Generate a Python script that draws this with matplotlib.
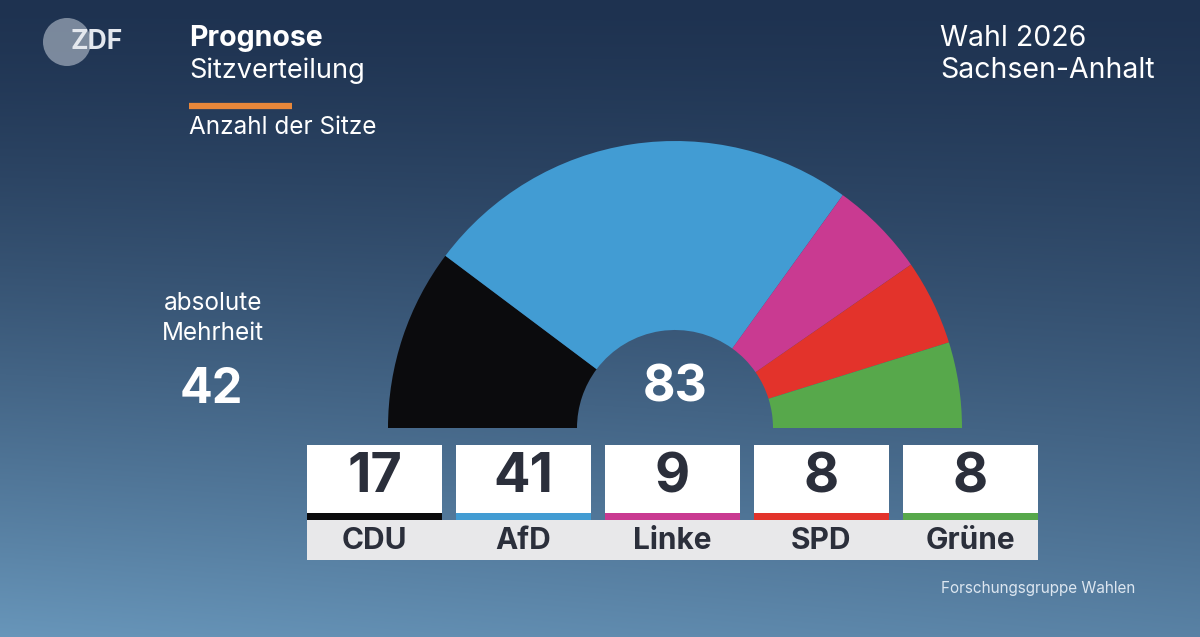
import numpy as np
import matplotlib
matplotlib.use("Agg")
import matplotlib.pyplot as plt
from matplotlib.patches import Rectangle, Circle

plt.rcParams['font.family'] = ['Inter', 'DejaVu Sans']

# data
parties = ["CDU", "AfD", "Linke", "SPD", "Grüne"]
seats = [17, 41, 9, 8, 8]
colors = ["#0b0b0d", "#429cd3", "#c93a91", "#e3332b", "#57a84b"]
total = sum(seats)
majority = 42

W, H = 1200, 637
fig = plt.figure(figsize=(12, 6.37), dpi=100)
ax = fig.add_axes([0, 0, 1, 1])

# background gradient (dark navy top -> light steel blue bottom)
yy, xx = np.mgrid[0:H, 0:W]
s = (yy / H) ** 1.3 * (1 - 0.2 * xx / W)
top = np.array([30, 50, 80]) / 255
bot = np.array([104, 150, 186]) / 255
bg = top[None, None, :] * (1 - s[..., None]) + bot[None, None, :] * s[..., None]
ax.imshow(bg, extent=[0, W, 0, H], origin='upper', zorder=0)

# half donut
cx, cy = 675, H - 428
r_out, r_in = 287, 98
ax.pie(seats + [total], colors=colors + ["none"], startangle=180, counterclock=False,
       center=(cx, cy), radius=r_out, frame=True,
       wedgeprops=dict(width=r_out - r_in, linewidth=0))
ax.text(cx, H - 388, str(total), color="white", fontsize=36, fontweight="bold",
        ha="center", va="center")

# boxes
x0, bw, gap = 307, 135, 14
ax.add_patch(Rectangle((x0, H - 560), 5 * bw + 4 * gap, 40, color="#e8e8ea", lw=0, zorder=2))
for i, (p, s_, c) in enumerate(zip(parties, seats, colors)):
    bx = x0 + i * (bw + gap)
    ax.add_patch(Rectangle((bx, H - 513), bw, 68, color="white", lw=0, zorder=3))
    ax.add_patch(Rectangle((bx, H - 520), bw, 7, color=c, lw=0, zorder=3))
    ax.text(bx + bw / 2, H - 478, str(s_), fontsize=39, fontweight="bold",
            color="#2b2f3b", ha="center", va="center", zorder=4)
    ax.text(bx + bw / 2, H - 541, p, fontsize=21.5, fontweight="bold",
            color="#2b2f3b", ha="center", va="center", zorder=4)

# titles
ax.add_patch(Circle((67, H - 42), 24, color="#9aa6b6", alpha=0.75, lw=0, zorder=2))
ax.text(71, H - 42, "ZDF", fontsize=19, fontweight="bold", color="#e4e8ee",
        ha="left", va="center", zorder=3)
ax.text(189, H - 38, "Prognose", fontsize=20.5, fontweight="bold", color="white", va="center")
ax.text(189, H - 71, "Sitzverteilung", fontsize=19.5, color="white", va="center")
ax.plot([189, 292], [H - 106, H - 106], color="#e8873a", lw=4.5, solid_capstyle="butt")
ax.text(189, H - 128, "Anzahl der Sitze", fontsize=17.5, color="white", va="center")

ax.text(940, H - 38, "Wahl 2026", fontsize=20.5, color="white", va="center")
ax.text(940, H - 70, "Sachsen-Anhalt", fontsize=20.5, color="white", va="center")

ax.text(213, H - 303, "absolute", fontsize=17.5, color="white", ha="center", va="center")
ax.text(213, H - 333, "Mehrheit", fontsize=17.5, color="white", ha="center", va="center")
ax.text(211, H - 390, str(majority), fontsize=35, fontweight="bold", color="white",
        ha="center", va="center")

ax.text(941, H - 589, "Forschungsgruppe Wahlen", fontsize=11, color="#dce6f0", va="center")

ax.set_xlim(0, W)
ax.set_ylim(0, H)
ax.set_aspect('auto')
ax.axis('off')
fig.savefig("out.png", dpi=100)
